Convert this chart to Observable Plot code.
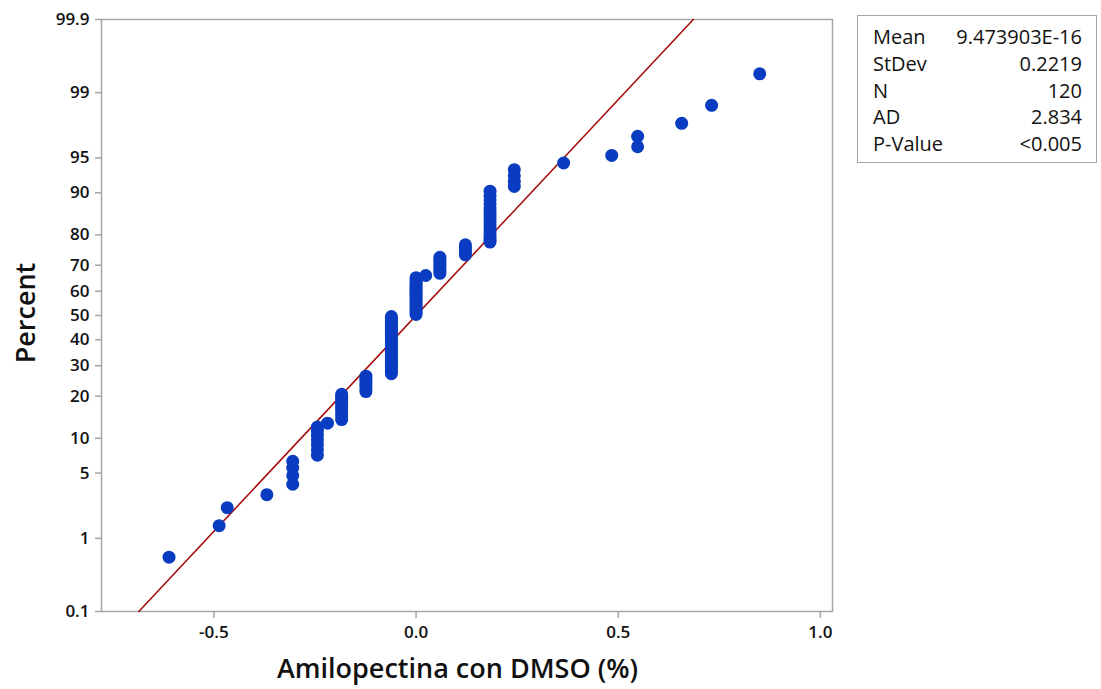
<!DOCTYPE html>
<html>
<head>
<meta charset="utf-8">
<script src="https://cdn.jsdelivr.net/npm/d3@7"></script>
<script src="https://cdn.jsdelivr.net/npm/@observablehq/plot@0.6"></script>
<style>
  html, body { margin: 0; padding: 0; background: #fff; }
  #wrap { position: relative; width: 1101px; height: 689px; font-family: "Open Sans", "Noto Sans", sans-serif; color: #111; }
  #chart svg { color: #111; }
  .title-x { position: absolute; left: 83px; width: 749px; top: 650px; text-align: center; font-size: 27px; font-weight: 600; line-height: 36px; }
  .title-y { position: absolute; left: 24px; top: 313px; transform: translate(-50%, -50%) rotate(-90deg); font-size: 27px; font-weight: 600; white-space: nowrap; }
  #stats { position: absolute; left: 857px; top: 15px; width: 240px; height: 148px; border: 1.5px solid #a6a6a6; box-sizing: border-box; font-size: 20px; font-weight: 500; padding-top: 8px; }
  #stats .row { display: flex; justify-content: space-between; padding: 0 14px 0 15px; height: 26.8px; line-height: 26.8px; }
</style>
</head>
<body>
<div id="wrap">
  <div id="chart"></div>
  <div class="title-x">Amilopectina con DMSO (%)</div>
  <div class="title-y">Percent</div>
  <div id="stats"></div>
</div>
<script>
// Distinct observed values (x) and how many observations share each value
const values = [-0.611, -0.487, -0.467, -0.369, -0.305, -0.244, -0.219, -0.184, -0.124, -0.061, 0.000, 0.024, 0.059, 0.122, 0.183, 0.243, 0.365, 0.484, 0.548, 0.657, 0.731, 0.850];
const counts = [1, 1, 1, 1, 4, 7, 1, 9, 7, 28, 19, 1, 8, 5, 16, 4, 1, 1, 2, 1, 1, 1];

// Summary statistics shown in the legend box
const statLabels = ["Mean", "StDev", "N", "AD", "P-Value"];
const statValues = ["9.473903E-16", "0.2219", "120", "2.834", "<0.005"];
const fitMean = 9.473903e-16;
const fitStDev = 0.2219;

// Axis ticks
const xTicks = [-0.5, 0.0, 0.5, 1.0];
const yTickPercents = [0.1, 1, 5, 10, 20, 30, 40, 50, 60, 70, 80, 90, 95, 99, 99.9];
const yTickLabels = ["0.1", "1", "5", "10", "20", "30", "40", "50", "60", "70", "80", "90", "95", "99", "99.9"];

// Inverse standard normal CDF (Acklam's approximation)
function probit(p) {
  const a = [-3.969683028665376e+01, 2.209460984245205e+02, -2.759285104469687e+02, 1.383577518672690e+02, -3.066479806614716e+01, 2.506628277459239e+00];
  const b = [-5.447609879822406e+01, 1.615858368580409e+02, -1.556989798598866e+02, 6.680131188771972e+01, -1.328068155288572e+01];
  const c = [-7.784894002430293e-03, -3.223964580411365e-01, -2.400758277161838e+00, -2.549732539343734e+00, 4.374664141464968e+00, 2.938163982698783e+00];
  const d = [7.784695709041462e-03, 3.224671290700398e-01, 2.445134137142996e+00, 3.754408661907416e+00];
  const pl = 0.02425, ph = 1 - pl;
  let q, r;
  if (p < pl) {
    q = Math.sqrt(-2 * Math.log(p));
    return (((((c[0]*q+c[1])*q+c[2])*q+c[3])*q+c[4])*q+c[5]) / ((((d[0]*q+d[1])*q+d[2])*q+d[3])*q+1);
  } else if (p <= ph) {
    q = p - 0.5; r = q * q;
    return (((((a[0]*r+a[1])*r+a[2])*r+a[3])*r+a[4])*r+a[5])*q / (((((b[0]*r+b[1])*r+b[2])*r+b[3])*r+b[4])*r+1);
  } else {
    q = Math.sqrt(-2 * Math.log(1 - p));
    return -(((((c[0]*q+c[1])*q+c[2])*q+c[3])*q+c[4])*q+c[5]) / ((((d[0]*q+d[1])*q+d[2])*q+d[3])*q+1);
  }
}

// Expand to sorted observations, plotted at median-rank percentiles
const obs = [];
values.forEach((v, k) => { for (let j = 0; j < counts[k]; j++) obs.push(v); });
const n = obs.length;
const points = obs.map((x, i) => ({ x, z: probit((i + 1 - 0.3) / (n + 0.4)) }));

// Fitted normal line from 0.1% to 99.9%
const zLo = probit(0.001), zHi = probit(0.999);
const fitLine = [zLo, zHi].map(z => ({ x: fitMean + z * fitStDev, z }));

const yTickZ = yTickPercents.map(p => probit(p / 100));
const yLabelMap = new Map(yTickZ.map((z, i) => [z, yTickLabels[i]]));

const chart = Plot.plot({
  width: 1101,
  height: 689,
  marginLeft: 101,
  marginRight: 269,
  marginTop: 19,
  marginBottom: 78,
  style: { fontFamily: "'Open Sans', 'Noto Sans', sans-serif", background: "transparent" },
  x: { domain: [-0.778, 1.030] },
  y: { domain: [zLo, zHi] },
  marks: [
    Plot.frame({ stroke: "#a6a6a6", strokeWidth: 1.5 }),
    Plot.axisX({ ticks: xTicks, tickFormat: d => d.toFixed(1), tickSize: 7, tickPadding: 7, stroke: "#a6a6a6", strokeWidth: 1.5, fontSize: 17, fontWeight: 600, label: null }),
    Plot.axisY({ ticks: yTickZ, tickFormat: z => yLabelMap.get(z), tickSize: 6, tickPadding: 6, stroke: "#a6a6a6", strokeWidth: 1.5, fontSize: 17, fontWeight: 600, label: null }),
    Plot.line(fitLine, { x: "x", y: "z", stroke: "#a80f0f", strokeWidth: 1.6 }),
    Plot.dot(points, { x: "x", y: "z", r: 6.5, fill: "#0a3cc2", stroke: "none" })
  ]
});
document.getElementById("chart").appendChild(chart);

const stats = document.getElementById("stats");
statLabels.forEach((lab, i) => {
  const row = document.createElement("div");
  row.className = "row";
  const a = document.createElement("span"); a.textContent = lab;
  const b = document.createElement("span"); b.textContent = statValues[i];
  row.appendChild(a); row.appendChild(b);
  stats.appendChild(row);
});
</script>
</body>
</html>
